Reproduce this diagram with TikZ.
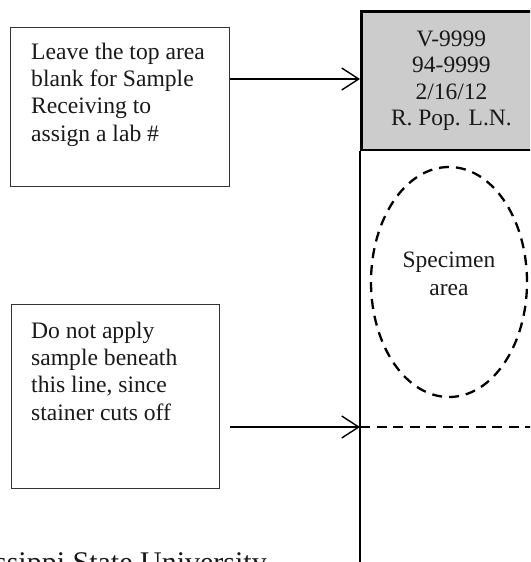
\documentclass[tikz,border=0pt]{standalone}
\usepackage{fontspec}
\setmainfont{Liberation Serif}
\usetikzlibrary{arrows.meta, shapes.geometric, positioning}

\begin{document}
\begin{tikzpicture}[x=1pt, y=-1pt,
    every node/.style = {inner sep=0pt, text=black!90},
    note/.style     = {draw=black!80, line width=1.3pt, anchor=north west},
    notetext/.style = {align=left, anchor=north west,
                       font=\fontsize{23.6}{27.2}\selectfont},
    pointer/.style  = {line width=1.2pt,
                       -{Straight Barb[length=17pt,width=22pt,line width=1.4pt]}},
    tagline/.style  = {line width=2.8pt},
    cutline/.style  = {line width=2.4pt, dash pattern=on 10pt off 6.5pt},
    specimen/.style = {ellipse, draw, line width=2.3pt,
                       dash pattern=on 10pt off 7pt,
                       minimum width=156pt, minimum height=230pt},
  ]
  \useasboundingbox (0,0) rectangle (530,562);
  \clip (0,0) rectangle (530,562);

  % notes on the left
  \node[note, minimum width=219pt, minimum height=159pt] (blankbox) at (10,27) {};
  \node[notetext, below right=15.9pt and 21pt of blankbox.north west] (blanktext)
    {Leave the top area\\blank for Sample\\Receiving to\\assign a lab \#};
  \node[note, minimum width=208pt, minimum height=184pt] (cutbox) at (11,304) {};
  \node[notetext, below right=17.9pt and 20pt of cutbox.north west] (cuttext)
    {Do not apply\\sample beneath\\this line, since\\stainer cuts off};

  % the slide label
  \node[draw, tagline, fill=black!20, anchor=north west, align=center,
        minimum width=180pt, minimum height=138.5pt,
        font=\fontsize{23.5}{26.5}\selectfont] (header) at (360,10)
    {V-9999\\94-9999\\2/16/12\\R. Pop. L.N.};
  \draw[tagline] (header.south west) -- ++(0,430);

  \node[specimen] (spec) at (449,282) {};
  \node[align=center, yshift=8pt, font=\fontsize{23.5}{28}\selectfont] (spectext)
    at (spec.center) {Specimen\\area};

  % connectors
  \coordinate (labtip) at (360,79);
  \draw[pointer] (blankbox.east |- labtip) -- (labtip);
  \coordinate (cutfrom) at (230,427);
  \coordinate (cutto) at (360,427);
  \draw[pointer] (cutfrom) -- (cutto);
  \draw[cutline] (cutto) -- (545,427);

  \node[anchor=base east, font=\fontsize{30}{36}\selectfont] (school) at (267,572)
    {Mississippi State University};
\end{tikzpicture}
\end{document}
